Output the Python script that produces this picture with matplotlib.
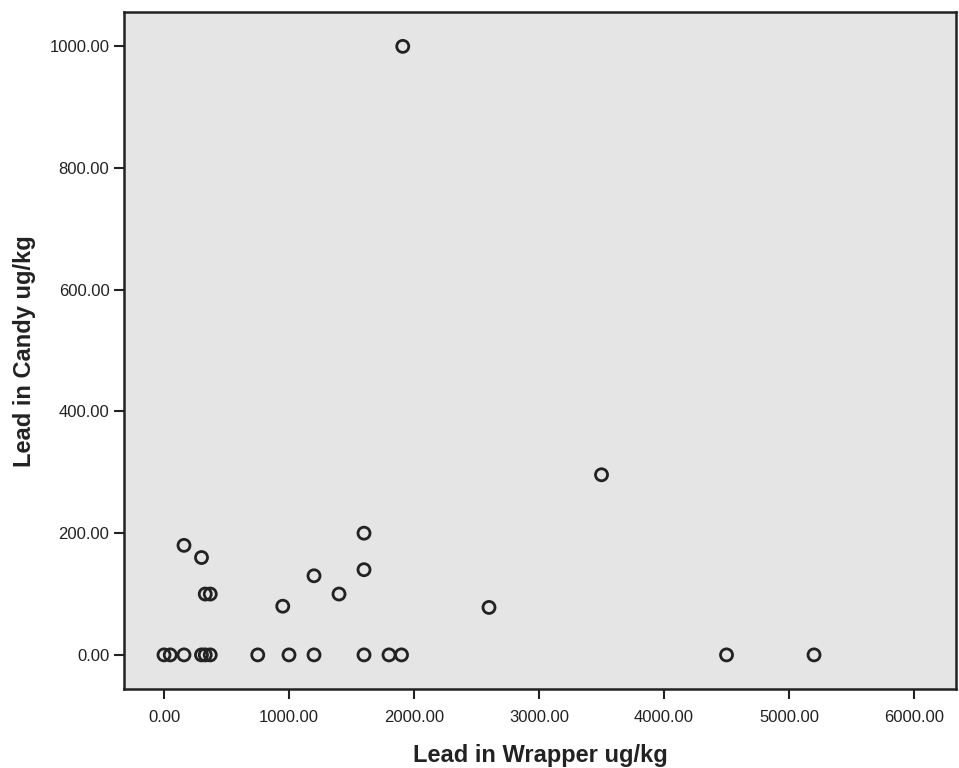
import matplotlib
matplotlib.use("Agg")
import matplotlib.pyplot as plt
from matplotlib.ticker import FormatStrFormatter

plt.rcParams['font.family'] = ['Liberation Sans', 'DejaVu Sans']

# lead in wrapper (x) and in candy (y), ug/kg
wrapper = [0, 50, 160, 300, 330, 370, 750, 1000, 1200, 1600, 1800, 1900, 4500, 5200,
           160, 300, 330, 370, 950, 1200, 1400, 1600, 1600, 2600, 3500, 1910]
candy = [0, 0, 0, 0, 0, 0, 0, 0, 0, 0, 0, 0, 0, 0,
         180, 160, 100, 100, 80, 130, 100, 200, 140, 78, 296, 1000]

xticks = [0, 1000, 2000, 3000, 4000, 5000, 6000]
yticks = [0, 200, 400, 600, 800, 1000]

fig = plt.figure(figsize=(9.59, 7.68), dpi=100)
ax = fig.add_axes([0.1293, 0.1029, 0.8676, 0.8811])
ax.set_facecolor('#e5e5e5')

ax.scatter(wrapper, candy, s=75, facecolors='none', edgecolors='#222222', linewidths=2, zorder=3)

ax.set_xlim(-320, 6336)
ax.set_ylim(-56, 1056)
ax.set_xticks(xticks)
ax.set_yticks(yticks)
ax.xaxis.set_major_formatter(FormatStrFormatter('%.2f'))
ax.yaxis.set_major_formatter(FormatStrFormatter('%.2f'))
ax.tick_params(direction='out', length=7, width=1.5, labelsize=12, colors='#222222')
ax.tick_params(axis='x', pad=8)
for s in ax.spines.values():
    s.set_linewidth(1.8)
    s.set_color('#222222')

ax.set_xlabel('Lead in Wrapper ug/kg', fontsize=17, fontweight='bold', labelpad=14, color='#222222')
ax.set_ylabel('Lead in Candy ug/kg', fontsize=17, fontweight='bold', labelpad=10, color='#222222')

fig.savefig('out.png', dpi=100)
